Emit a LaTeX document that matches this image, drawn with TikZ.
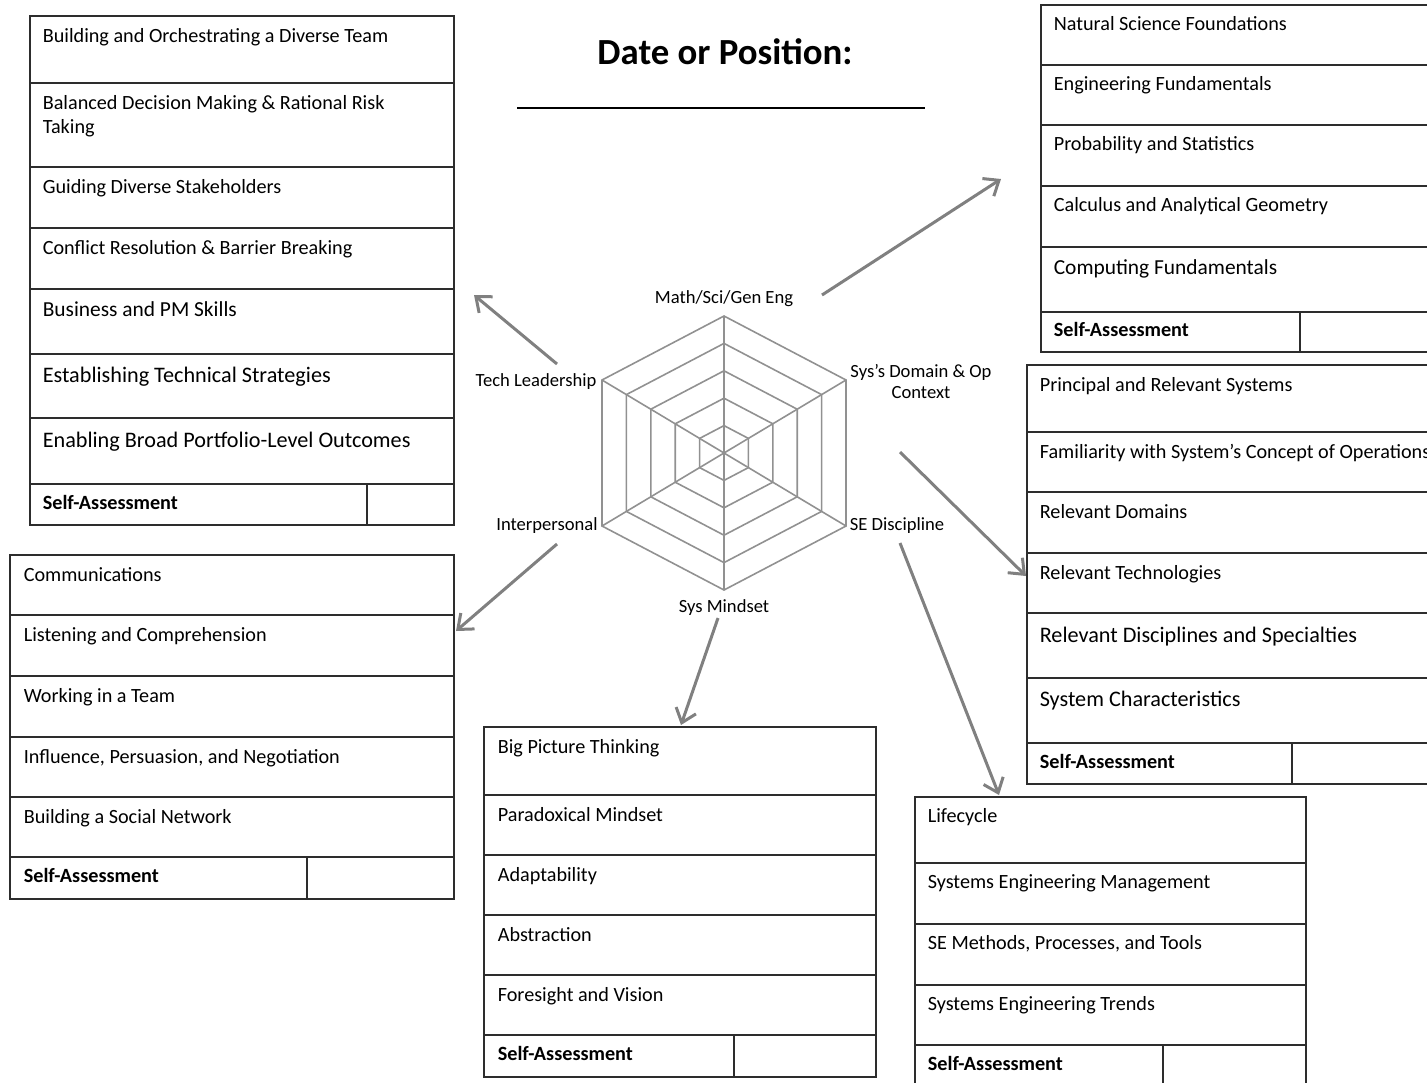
\documentclass[tikz,border=0pt]{standalone}
\usepackage{fontspec}
\setmainfont{Carlito}
\usetikzlibrary{arrows.meta,calc,fit}
\definecolor{linegray}{RGB}{128,128,128}
\definecolor{webgray}{RGB}{145,145,145}
\definecolor{boxline}{RGB}{45,45,45}

\begin{document}
\begin{tikzpicture}[x=0.5pt,y=-0.5pt,
    cell/.style={draw=boxline,line width=0.6pt,inner sep=0pt},
    celltxt/.style={anchor=base west,inner sep=0pt,align=left},
    satxt/.style={anchor=base west,inner sep=0pt,font=\bfseries\fontsize{10.1}{12}\selectfont},
    axis/.style={font=\fontsize{9.3}{10.5}\selectfont,inner sep=1pt,align=center},
    web/.style={draw=webgray,line width=0.8pt},
    pointer/.style={draw=linegray,line width=1.5pt,-{Straight Barb[length=6.5pt,width=10.5pt]}}]
  \useasboundingbox (0,0) rectangle (1427,1082);
  \clip (0,0) rectangle (1427,1082);

  % title and blank
  \node[font=\bfseries\fontsize{18.4}{20}\selectfont] (title) at (725,52) {Date or Position:};
  \coordinate (blank-l) at (517,108);
  \coordinate (blank-r) at (925,108);
  \draw[line width=0.7pt] (blank-l) -- (blank-r);

  % radar web
  \coordinate (ctr) at (724,453);
  \foreach \r in {1,...,5}
    \draw[web] ($(ctr)+(0,-27.4*\r)$) -- ($(ctr)+(24.4*\r,-14.6*\r)$) -- ($(ctr)+(24.4*\r,14.6*\r)$)
      -- ($(ctr)+(0,27.4*\r)$) -- ($(ctr)+(-24.4*\r,14.6*\r)$) -- ($(ctr)+(-24.4*\r,-14.6*\r)$) -- cycle;
  \foreach \v/\dx/\dy in {v1/0/-137,v2/122/-73,v3/122/73,v4/0/137,v5/-122/73,v6/-122/-73}{
    \coordinate (\v) at ($(ctr)+(\dx,\dy)$);
    \draw[web] (ctr) -- (\v);
  }

  % axis labels
  \node[axis] (lab-math) at (724,299) {Math/Sci/Gen Eng};
  \node[axis] (lab-dom) at (921,382) {Sys's Domain \& Op\\Context};
  \node[axis] (lab-se) at (897,526) {SE Discipline};
  \node[axis] (lab-mind) at (724,608) {Sys Mindset};
  \node[axis] (lab-inter) at (547,526) {Interpersonal};
  \node[axis] (lab-tech) at (536,382) {Tech Leadership};

  % tech leadership box
  \foreach \ya/\yb/\fs/\dy/\txt [count=\i] in {16/83/10.1/27/{Building and Orchestrating a Diverse Team},
      83/167/10.1/51/{Balanced Decision Making \& Rational Risk\\Taking},
      167/228/10.1/27/{Guiding Diverse Stakeholders},
      228/289/10.1/27/{Conflict Resolution \& Barrier Breaking},
      289/354/10.7/28/{Business and PM Skills},
      354/418/11.1/29/{Establishing Technical Strategies},
      418/484/11.1/30/{Enabling Broad Portfolio-Level Outcomes}}{
    \node[cell,fit={(30,\ya) (454,\yb)}] (tl-\i) {};
    \node[celltxt,font=\fontsize{\fs}{12}\selectfont] (tl-\i-t) at ($(tl-\i.north west)+(13,\dy)$) {\txt};
  }
  \node[cell,fit={(30,484) (367,525)}] (tl-sa) {};
  \node[cell,fit={(367,484) (454,525)}] (tl-score) {};
  \node[satxt] (tl-sa-t) at ($(tl-sa.north west)+(13,26)$) {Self-Assessment};

  % interpersonal box
  \foreach \ya/\yb/\txt [count=\i] in {555/615/{Communications},
      615/676/{Listening and Comprehension},
      676/737/{Working in a Team},
      737/797/{Influence, Persuasion, and Negotiation},
      797/857/{Building a Social Network}}{
    \node[cell,fit={(10,\ya) (454,\yb)}] (ip-\i) {};
    \node[celltxt,font=\fontsize{10.1}{12}\selectfont] (ip-\i-t) at ($(ip-\i.north west)+(14,27)$) {\txt};
  }
  \node[cell,fit={(10,857) (307,899)}] (ip-sa) {};
  \node[cell,fit={(307,857) (454,899)}] (ip-score) {};
  \node[satxt] (ip-sa-t) at ($(ip-sa.north west)+(14,26)$) {Self-Assessment};

  % sys mindset box
  \foreach \ya/\yb/\txt [count=\i] in {727/795/{Big Picture Thinking},
      795/855/{Paradoxical Mindset},
      855/915/{Adaptability},
      915/975/{Abstraction},
      975/1035/{Foresight and Vision}}{
    \node[cell,fit={(484,\ya) (876,\yb)}] (sm-\i) {};
    \node[celltxt,font=\fontsize{10.1}{12}\selectfont] (sm-\i-t) at ($(sm-\i.north west)+(14,27)$) {\txt};
  }
  \node[cell,fit={(484,1035) (734,1077)}] (sm-sa) {};
  \node[cell,fit={(734,1035) (876,1077)}] (sm-score) {};
  \node[satxt] (sm-sa-t) at ($(sm-sa.north west)+(14,26)$) {Self-Assessment};

  % se discipline box
  \foreach \ya/\yb/\txt [count=\i] in {797/863/{Lifecycle},
      863/924/{Systems Engineering Management},
      924/985/{SE Methods, Processes, and Tools},
      985/1045/{Systems Engineering Trends}}{
    \node[cell,fit={(915,\ya) (1306,\yb)}] (se-\i) {};
    \node[celltxt,font=\fontsize{10.1}{12}\selectfont] (se-\i-t) at ($(se-\i.north west)+(13,26)$) {\txt};
  }
  \node[cell,fit={(915,1045) (1163,1090)}] (se-sa) {};
  \node[cell,fit={(1163,1045) (1306,1090)}] (se-score) {};
  \node[satxt] (se-sa-t) at ($(se-sa.north west)+(13,26)$) {Self-Assessment};

  % math/sci box
  \foreach \ya/\yb/\fs/\dy/\txt [count=\i] in {5/65/10.1/26/{Natural Science Foundations},
      65/125/10.1/26/{Engineering Fundamentals},
      125/186/10.1/26/{Probability and Statistics},
      186/247/10.1/26/{Calculus and Analytical Geometry},
      247/312/10.7/28/{Computing Fundamentals}}{
    \node[cell,fit={(1041,\ya) (1440,\yb)}] (ms-\i) {};
    \node[celltxt,font=\fontsize{\fs}{12}\selectfont] (ms-\i-t) at ($(ms-\i.north west)+(13,\dy)$) {\txt};
  }
  \node[cell,fit={(1041,312) (1300,352)}] (ms-sa) {};
  \node[cell,fit={(1300,312) (1440,352)}] (ms-score) {};
  \node[satxt] (ms-sa-t) at ($(ms-sa.north west)+(13,25)$) {Self-Assessment};

  % sys domain box
  \foreach \ya/\yb/\fs/\dy/\txt [count=\i] in {365/432/10.1/27/{Principal and Relevant Systems},
      432/492/10.1/27/{Familiarity with System's Concept of Operations},
      492/553/10.1/27/{Relevant Domains},
      553/613/10.1/27/{Relevant Technologies},
      613/678/11.1/30/{Relevant Disciplines and Specialties},
      678/743/11.1/29/{System Characteristics}}{
    \node[cell,fit={(1027,\ya) (1440,\yb)}] (sd-\i) {};
    \node[celltxt,font=\fontsize{\fs}{12}\selectfont] (sd-\i-t) at ($(sd-\i.north west)+(13,\dy)$) {\txt};
  }
  \node[cell,fit={(1027,743) (1292,784)}] (sd-sa) {};
  \node[cell,fit={(1292,743) (1440,784)}] (sd-score) {};
  \node[satxt] (sd-sa-t) at ($(sd-sa.north west)+(13,26)$) {Self-Assessment};

  % pointers
  \coordinate (p-tech) at (557,364);   \coordinate (q-tech) at (474,295);
  \coordinate (p-math) at (822,295);   \coordinate (q-math) at (1001,179);
  \coordinate (p-dom) at (900,452);    \coordinate (q-dom) at (1026,576);
  \coordinate (p-se) at (900,543);     \coordinate (q-se) at (999,795);
  \coordinate (p-mind) at (718,618);   \coordinate (q-mind) at (681,725);
  \coordinate (p-inter) at (557,544);  \coordinate (q-inter) at (456,631);
  \foreach \k in {tech,math,dom,se,mind,inter}
    \draw[pointer] (p-\k) -- (q-\k);
\end{tikzpicture}
\end{document}
